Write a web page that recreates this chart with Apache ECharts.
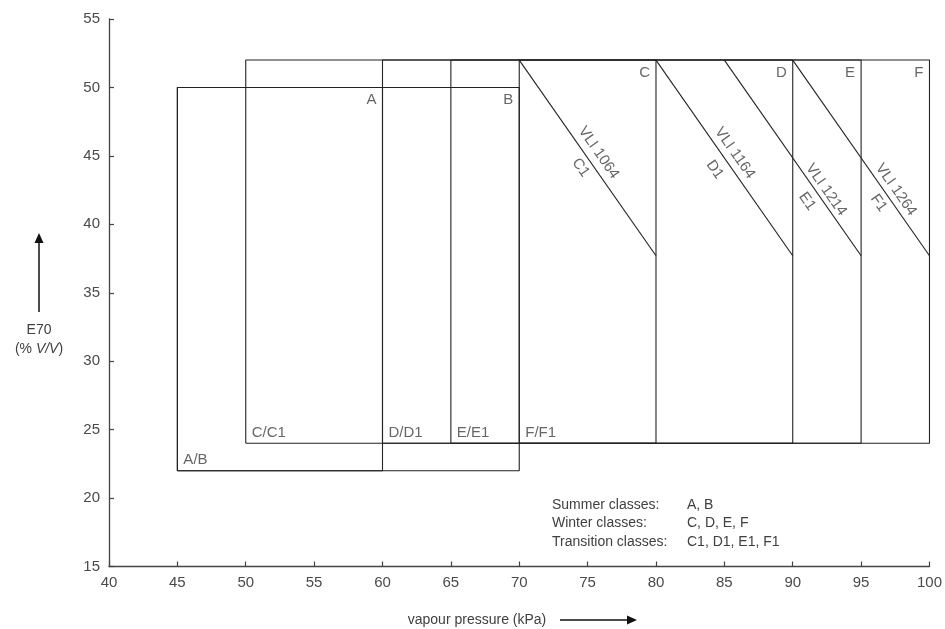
<!DOCTYPE html>
<html>
<head>
<meta charset="utf-8">
<script src="https://cdn.jsdelivr.net/npm/echarts@6/dist/echarts.min.js"></script>
<style>
html,body{margin:0;padding:0;background:#fff;}
#chart{width:945px;height:629px;}
</style>
</head>
<body>
<div id="chart"></div>
<script>
// ---- data ----
const classNames = ['A', 'B', 'C', 'D', 'E', 'F'];
const vpMin  = [45, 45, 50, 60, 65, 70];
const vpMax  = [60, 70, 80, 90, 95, 100];
const e70Min = [22, 22, 24, 24, 24, 24];
const e70Max = [50, 50, 52, 52, 52, 52];

const bottomLabels = ['A/B', 'C/C1', 'D/D1', 'E/E1', 'F/F1'];
const bottomLabelVp = [45, 50, 60, 65, 70];
const bottomLabelE70 = [22, 24, 24, 24, 24];

const vliNames = ['VLI 1064', 'VLI 1164', 'VLI 1214', 'VLI 1264'];
const transNames = ['C1', 'D1', 'E1', 'F1'];
const vliLineVp  = [[70, 80], [80, 90], [85, 95], [90, 100]];
const vliLineE70 = [[52, 37.7], [52, 37.7], [52, 37.7], [52, 37.7]];
const vliLabelVp  = [75.8, 85.76, 92.44, 97.55];
const vliLabelE70 = [45.23, 45.21, 42.53, 42.53];
const transLabelVp  = [74.49, 84.30, 91.06, 96.28];
const transLabelE70 = [44.14, 43.99, 41.67, 41.55];

const xTicks = [40, 100, 5];
const yTicks = [15, 55, 5];

const legendLeft = ['Summer classes:', 'Winter classes:', 'Transition classes:'];
const legendRight = ['A, B', 'C, D, E, F', 'C1, D1, E1, F1'];

// ---- chart ----
const FONT = 'Liberation Sans';
const TXT = '#404040';
const LINE = '#222222';
const chart = echarts.init(document.getElementById('chart'), null, {renderer: 'canvas'});

const series = [];
classNames.forEach((n, i) => {
  series.push({
    type: 'line', name: 'box ' + n, silent: true, symbol: 'none', animation: false,
    lineStyle: {color: LINE, width: 1.1},
    data: [[vpMin[i], e70Min[i]], [vpMax[i], e70Min[i]], [vpMax[i], e70Max[i]], [vpMin[i], e70Max[i]], [vpMin[i], e70Min[i]]]
  });
});
vliNames.forEach((n, i) => {
  series.push({
    type: 'line', name: n, silent: true, symbol: 'none', animation: false,
    lineStyle: {color: LINE, width: 1.1},
    data: [[vliLineVp[i][0], vliLineE70[i][0]], [vliLineVp[i][1], vliLineE70[i][1]]]
  });
});
const baseLabel = {show: true, color: TXT, fontFamily: FONT, fontSize: 15};
// top-right class letters
series.push({
  type: 'scatter', silent: true, symbolSize: 0, animation: false,
  data: classNames.map((n, i) => ({name: n, value: [vpMax[i], e70Max[i]]})),
  label: Object.assign({}, baseLabel, {position: [-6, 5], align: 'right', verticalAlign: 'top', formatter: p => p.name})
});
// bottom-left labels
series.push({
  type: 'scatter', silent: true, symbolSize: 0, animation: false,
  data: bottomLabels.map((n, i) => ({name: n, value: [bottomLabelVp[i], bottomLabelE70[i]]})),
  label: Object.assign({}, baseLabel, {position: [6, -3], align: 'left', verticalAlign: 'bottom', formatter: p => p.name})
});
// VLI rotated labels
series.push({
  type: 'scatter', silent: true, symbolSize: 0, animation: false,
  data: vliNames.map((n, i) => ({name: n, value: [vliLabelVp[i], vliLabelE70[i]]})),
  label: Object.assign({}, baseLabel, {position: 'inside', rotate: -55, formatter: p => p.name})
});
series.push({
  type: 'scatter', silent: true, symbolSize: 0, animation: false,
  data: transNames.map((n, i) => ({name: n, value: [transLabelVp[i], transLabelE70[i]]})),
  label: Object.assign({}, baseLabel, {position: 'inside', rotate: -55, formatter: p => p.name})
});

const axisCommon = {
  type: 'value',
  axisLine: {show: true, lineStyle: {color: '#444', width: 1.3}},
  axisTick: {show: true, inside: true, length: 5, lineStyle: {color: '#444', width: 1.2}},
  splitLine: {show: false},
  axisLabel: {color: '#4a4a4a', fontFamily: FONT, fontSize: 15, showMinLabel: true, showMaxLabel: true}
};

const graphic = [
  // y title arrow
  {type: 'line', shape: {x1: 39, y1: 312, x2: 39, y2: 240}, style: {stroke: '#111', lineWidth: 1.5}},
  {type: 'polygon', shape: {points: [[39, 233], [34.5, 243], [43.5, 243]]}, style: {fill: '#111'}},
  {type: 'text', x: 39, y: 330, style: {text: 'E70', fill: TXT, font: '14px ' + FONT, align: 'center', verticalAlign: 'middle'}},
  {type: 'text', x: 39, y: 349, style: {
    text: '(% {i|V/V})', fill: TXT, font: '14px ' + FONT, align: 'center', verticalAlign: 'middle',
    rich: {i: {fontStyle: 'italic', fontFamily: FONT, fontSize: 14, fill: TXT}}
  }},
  // x title
  {type: 'text', x: 477, y: 620, style: {text: 'vapour pressure (kPa)', fill: TXT, font: '14px ' + FONT, align: 'center', verticalAlign: 'middle'}},
  {type: 'line', shape: {x1: 560, y1: 620, x2: 628, y2: 620}, style: {stroke: '#111', lineWidth: 1.5}},
  {type: 'polygon', shape: {points: [[637, 620], [627, 615.5], [627, 624.5]]}, style: {fill: '#111'}}
];
const legendY = [505, 523.5, 542];
legendLeft.forEach((t, i) => {
  graphic.push({type: 'text', x: 552, y: legendY[i], style: {text: t, fill: TXT, font: '14px ' + FONT, align: 'left', verticalAlign: 'middle'}});
  graphic.push({type: 'text', x: 687, y: legendY[i], style: {text: legendRight[i], fill: TXT, font: '14px ' + FONT, align: 'left', verticalAlign: 'middle'}});
});

chart.setOption({
  animation: false,
  backgroundColor: '#fff',
  grid: {left: 109, right: 13, top: 19, bottom: 62.5, containLabel: false},
  xAxis: Object.assign({}, axisCommon, {min: xTicks[0], max: xTicks[1], interval: xTicks[2],
    axisLabel: Object.assign({}, axisCommon.axisLabel, {margin: 9})}),
  yAxis: Object.assign({}, axisCommon, {min: yTicks[0], max: yTicks[1], interval: yTicks[2],
    axisLabel: Object.assign({}, axisCommon.axisLabel, {margin: 9})}),
  series: series,
  graphic: graphic
});
</script>
</body>
</html>
